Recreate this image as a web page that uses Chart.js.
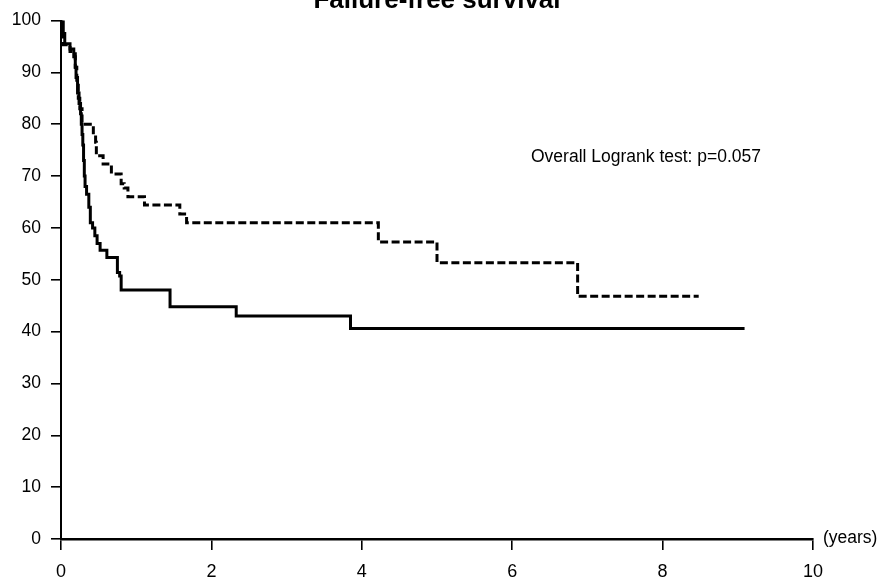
<!DOCTYPE html>
<html>
<head>
<meta charset="utf-8">
<script src="https://cdn.jsdelivr.net/npm/chart.js@4.4.1/dist/chart.umd.min.js"></script>
<style>
  html, body { margin: 0; padding: 0; background: #fff; }
  #wrap { width: 879px; height: 577px; position: relative; }
</style>
</head>
<body>
<div id="wrap"><canvas id="kmChart" width="879" height="577"></canvas></div>
<script>
// Kaplan-Meier steps: time (years) where the curve drops, and the new level (%)
const solidTimes = [0, 0.03, 0.05, 0.12, 0.17, 0.19, 0.2, 0.22, 0.24, 0.26, 0.27, 0.28, 0.29, 0.3, 0.31, 0.32, 0.34, 0.37, 0.39, 0.42, 0.45, 0.48, 0.52, 0.61, 0.75, 0.78, 0.8, 1.45, 2.33, 3.85, 9.09];
const solidLevels = [100, 97.5, 95.5, 94.5, 93, 91, 89, 86, 84, 82, 80, 78, 76, 73, 70, 68, 66.5, 64, 61, 60, 58.5, 57, 55.7, 54.3, 51.4, 50.7, 48, 44.8, 43.0, 40.6, 40.6];

const dashedTimes = [0, 0.01, 0.02, 0.12, 0.19, 0.21, 0.23, 0.25, 0.28, 0.43, 0.46, 0.47, 0.56, 0.67, 0.8, 0.84, 0.89, 1.11, 1.58, 1.67, 4.22, 5.0, 6.87, 8.48];
const dashedLevels = [100, 97, 95.3, 94, 91, 88, 85, 83, 80, 78, 76.5, 73.9, 72.3, 70.4, 68.5, 67.7, 66, 64.4, 62.7, 61.0, 57.3, 53.3, 46.8, 46.8];

const xTicks = [0, 2, 4, 6, 8, 10];
const yTicks = [0, 10, 20, 30, 40, 50, 60, 70, 80, 90, 100];

const chartTitle = 'Failure-free survival';
const testNote = 'Overall Logrank test: p=0.057';
const xUnit = '(years)';

const FONT = '"Liberation Sans", Arial, sans-serif';

function toPoints(times, levels) {
    return times.map((t, i) => ({ x: t, y: levels[i] }));
}

// extra texts: title (cut by the top edge), test note, unit label
const textPlugin = {
    id: 'extraText',
    afterDraw(chart) {
        const ctx = chart.ctx;
        const area = chart.chartArea;
        ctx.save();
        ctx.fillStyle = '#000';
        ctx.textAlign = 'center';
        ctx.textBaseline = 'alphabetic';
        ctx.font = 'bold 26px ' + FONT;
        ctx.fillText(chartTitle, 437, 8);

        ctx.textAlign = 'left';
        ctx.font = '17.5px ' + FONT;
        ctx.fillText(testNote, 531, 162);

        ctx.font = '17.5px ' + FONT;
        ctx.textBaseline = 'middle';
        ctx.fillText(xUnit, area.right + 10, area.bottom - 1);
        ctx.restore();
    }
};

const ctx = document.getElementById('kmChart').getContext('2d');
new Chart(ctx, {
    type: 'line',
    data: {
        datasets: [
            {
                label: 'solid',
                data: toPoints(solidTimes, solidLevels),
                borderColor: '#000',
                borderWidth: 3,
                stepped: true,
                pointRadius: 0,
                fill: false
            },
            {
                label: 'dashed',
                data: toPoints(dashedTimes, dashedLevels),
                borderColor: '#000',
                borderWidth: 3,
                borderDash: [8, 3.5],
                stepped: true,
                pointRadius: 0,
                fill: false
            }
        ]
    },
    options: {
        responsive: false,
        animation: false,
        events: [],
        layout: { padding: { left: 0, right: 66, top: 19, bottom: 0 } },
        plugins: {
            legend: { display: false },
            tooltip: { enabled: false },
            title: { display: false }
        },
        scales: {
            x: {
                type: 'linear',
                min: 0,
                max: 10,
                afterFit: (scale) => { scale.height = 38; },
                afterBuildTicks: (scale) => { scale.ticks = xTicks.map(v => ({ value: v })); },
                grid: { display: true, drawOnChartArea: false, drawTicks: true, tickLength: 11, color: '#000', lineWidth: 1.6 },
                border: { display: true, color: '#000', width: 2.5 },
                ticks: { color: '#000', padding: 11, maxRotation: 0, font: { family: FONT, size: 18 } }
            },
            y: {
                min: 0,
                max: 100,
                afterFit: (scale) => { scale.width = 61; },
                afterBuildTicks: (scale) => { scale.ticks = yTicks.map(v => ({ value: v })); },
                grid: { display: true, drawOnChartArea: false, drawTicks: true, tickLength: 10, color: '#000', lineWidth: 1.6 },
                border: { display: true, color: '#000', width: 2 },
                ticks: { color: '#000', padding: 10, font: { family: FONT, size: 17.5 } }
            }
        }
    },
    plugins: [textPlugin]
});
</script>
</body>
</html>
